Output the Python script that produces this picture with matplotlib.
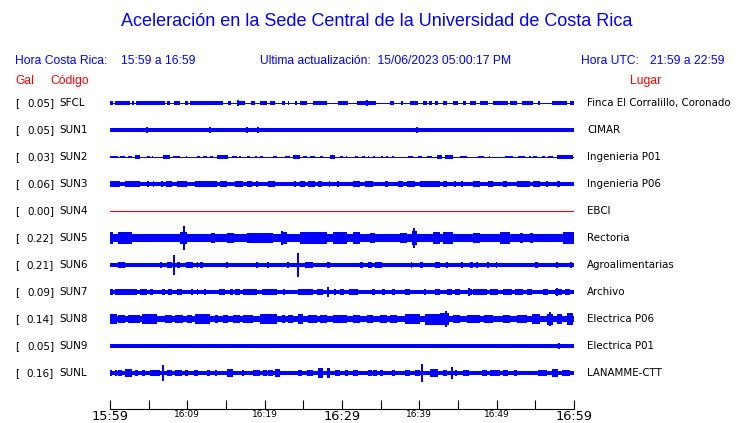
import matplotlib.pyplot as plt
from matplotlib.transforms import blended_transform_factory

W, H = 740, 423

codes = ['SFCL', 'SUN1', 'SUN2', 'SUN3', 'SUN4', 'SUN5', 'SUN6', 'SUN7', 'SUN8', 'SUN9', 'SUNL']
peak_gal = [0.05, 0.05, 0.03, 0.06, 0.00, 0.22, 0.21, 0.09, 0.14, 0.05, 0.16]
places = ['Finca El Corralillo, Coronado', 'CIMAR', 'Ingenieria P01', 'Ingenieria P06', 'EBCI',
          'Rectoria', 'Agroalimentarias', 'Archivo', 'Electrica P06', 'Electrica P01', 'LANAMME-CTT']
# half width of the continuous noise band (Gal)
base_amp = [0.009, 0.036, 0.009, 0.042, 0.0, 0.072, 0.034, 0.038, 0.052, 0.034, 0.032]

# bursts: (start minute, end minute, amplitude Gal), minutes after 15:59
sfcl_bursts = [(0.0, 0.4, .032), (0.6, 2.6, .032), (3.4, 7.1, .034), (7.4, 7.8, .032), (8.3, 9.1, .032),
               (9.8, 10.1, .032), (10.3, 14.6, .032), (15.3, 15.6, .032), (16.4, 17.5, .036), (18.2, 18.7, .032),
               (19.4, 20.3, .032), (20.7, 21.3, .032), (22.2, 22.6, .032), (23.0, 23.2, .032), (23.9, 24.2, .032),
               (24.6, 25.5, .032), (26.2, 28.1, .032), (29.5, 30.8, .032), (31.9, 34.4, .034), (36.2, 36.7, .032),
               (37.6, 37.9, .032), (38.8, 39.8, .032), (40.5, 41.0, .032), (41.3, 41.6, .032), (42.0, 42.4, .032),
               (43.1, 43.6, .032), (44.3, 45.0, .032), (45.6, 46.0, .032), (46.5, 47.3, .032), (47.8, 48.9, .032),
               (49.5, 51.5, .032), (51.7, 52.6, .032), (53.3, 54.7, .032), (55.3, 55.6, .032), (57.2, 59.1, .032),
               (59.5, 60.0, .032)]
sfcl_spikes = [(3.0, .045), (9.8, .04), (15.4, .04), (16.5, .05), (33.2, .05), (52.4, .045)]

sun1_bursts = []
sun1_spikes = [(4.8, .05), (6.9, .045), (12.9, .05), (17.7, .05), (19.1, .05), (31.4, .045),
               (32.5, .045), (39.7, .05), (48.5, .045), (55.2, .045)]

sun2_bursts = [(0.0, 1.0, .026), (1.3, 1.9, .026), (2.3, 2.8, .026), (3.2, 3.9, .028), (4.8, 5.2, .026),
               (5.4, 5.6, .026), (6.9, 7.8, .028), (8.2, 9.1, .026), (9.8, 10.0, .026), (11.3, 11.6, .026),
               (12.0, 12.5, .026), (12.9, 13.3, .026), (13.8, 15.3, .028), (15.8, 16.4, .026), (16.7, 16.9, .026),
               (17.7, 18.1, .026), (18.7, 19.0, .026), (19.4, 19.8, .026), (21.1, 21.6, .026), (22.6, 23.3, .026),
               (23.7, 24.6, .028), (24.9, 25.5, .026), (25.9, 26.5, .026), (27.2, 27.5, .026), (28.4, 29.1, .028),
               (29.7, 30.1, .026), (30.5, 30.7, .026), (31.7, 32.1, .026), (32.6, 33.0, .026), (33.3, 33.5, .026),
               (34.0, 34.3, .026), (35.1, 35.3, .026), (35.7, 35.9, .026), (36.5, 36.7, .026), (38.5, 39.2, .026),
               (39.8, 40.3, .026), (41.0, 41.6, .026), (42.3, 42.9, .028), (43.3, 44.4, .028), (45.3, 46.2, .026),
               (47.6, 48.3, .026), (49.0, 49.2, .026), (51.1, 52.1, .026), (52.8, 53.7, .026), (54.2, 54.4, .026),
               (54.7, 55.2, .026), (55.9, 56.3, .026), (56.6, 57.3, .026), (57.8, 59.9, .028)]
sun2_spikes = [(15.0, .03), (42.6, .03)]

sun3_bursts = [(0.0, 1.3, .052), (1.9, 3.9, .052), (4.8, 5.0, .05), (5.5, 5.7, .05), (6.6, 6.8, .05),
               (7.3, 8.0, .05), (8.7, 10.0, .052), (11.0, 13.8, .052), (14.2, 15.1, .052), (16.2, 17.2, .05),
               (17.7, 18.4, .05), (18.9, 19.1, .05), (20.4, 21.3, .05), (23.8, 24.0, .05), (24.6, 25.2, .05),
               (25.6, 26.5, .05), (26.9, 27.4, .05), (28.3, 28.5, .05), (29.4, 29.6, .05), (31.4, 32.3, .052),
               (33.0, 34.0, .052), (35.6, 36.0, .05), (37.2, 37.9, .05), (38.4, 39.4, .052), (40.1, 42.7, .052),
               (43.1, 43.6, .05), (44.5, 44.7, .05), (45.4, 45.6, .05), (47.0, 47.8, .05), (48.9, 49.5, .05),
               (50.8, 51.3, .05), (52.6, 54.3, .052), (54.7, 55.6, .052), (56.4, 56.6, .05), (57.8, 58.2, .05)]
sun3_spikes = [(14.7, .06), (42.5, .055)]

sun4_bursts = []
sun4_spikes = []

sun5_bursts = [(0.0, 0.4, .11), (1.0, 2.8, .1), (9.1, 10.0, .11), (13.0, 13.6, .09), (15.1, 16.0, .09),
               (17.7, 21.1, .095), (22.2, 22.9, .11), (24.6, 28.1, .1), (28.9, 30.6, .1), (31.4, 32.3, .1),
               (33.6, 34.3, .09), (37.5, 38.4, .095), (39.0, 39.7, .12), (41.8, 42.7, .1), (43.1, 44.4, .1),
               (46.9, 47.8, .09), (50.4, 51.7, .1), (53.0, 53.4, .09), (54.3, 54.7, .09), (58.6, 60.0, .11)]
sun5_spikes = [(9.6, .22), (39.3, .19), (22.2, .12)]

sun6_bursts = [(1.0, 1.9, .055), (6.5, 6.7, .05), (7.4, 8.0, .055), (8.7, 9.1, .05), (9.8, 10.7, .055),
               (11.2, 11.4, .05), (11.6, 12.0, .055), (15.0, 15.2, .05), (18.9, 19.1, .05), (20.3, 20.5, .05),
               (22.9, 23.1, .05), (25.2, 26.2, .055), (28.1, 28.5, .05), (32.3, 32.7, .05), (33.4, 33.9, .05),
               (34.3, 35.2, .055), (38.9, 39.1, .05), (40.1, 40.5, .05), (42.0, 42.7, .055), (43.5, 43.7, .05),
               (45.4, 45.7, .05), (46.5, 46.9, .05), (47.3, 47.6, .05), (48.8, 49.0, .05), (49.9, 50.1, .05),
               (55.0, 55.3, .05), (57.7, 57.9, .06), (59.5, 59.8, .05)]
sun6_spikes = [(8.3, .19), (24.3, .21)]

sun7_bursts = [(0.0, 0.4, .055), (0.6, 3.5, .055), (3.9, 4.8, .055), (5.2, 5.6, .055), (6.7, 7.1, .055),
               (7.5, 8.0, .055), (8.7, 9.3, .055), (10.5, 10.7, .05), (11.2, 11.4, .05), (12.2, 12.4, .05),
               (14.1, 14.9, .055), (15.5, 15.9, .055), (16.2, 16.8, .055), (17.2, 19.0, .055), (19.6, 21.6, .055),
               (22.4, 22.6, .055), (24.3, 26.3, .06), (26.8, 27.5, .055), (29.0, 29.2, .05), (29.7, 30.2, .055),
               (30.9, 32.1, .055), (33.9, 34.3, .055), (35.2, 35.6, .055), (36.5, 36.9, .055), (38.2, 38.8, .055),
               (40.6, 40.8, .05), (42.0, 42.7, .055), (43.6, 44.2, .055), (44.6, 45.3, .055), (46.3, 46.8, .06),
               (46.9, 48.7, .055), (49.1, 50.2, .055), (50.8, 52.0, .055), (52.4, 53.4, .055), (53.9, 54.6, .055),
               (56.0, 56.6, .055), (57.5, 58.4, .06), (58.8, 59.5, .055)]
sun7_spikes = [(28.2, .09), (46.4, .08), (57.8, .075)]

sun8_bursts = [(0.0, 0.9, .085), (1.0, 1.9, .08), (2.3, 3.9, .08), (4.1, 6.1, .085), (7.1, 8.0, .08),
               (8.4, 9.5, .08), (10.0, 10.6, .08), (11.0, 12.9, .085), (13.6, 14.0, .08), (14.6, 15.3, .08),
               (15.9, 16.8, .08), (17.2, 18.5, .08), (19.4, 21.6, .09), (22.2, 22.6, .08), (23.0, 23.7, .08),
               (24.3, 25.0, .09), (25.6, 26.8, .08), (27.2, 28.1, .08), (28.8, 30.6, .08), (31.4, 32.3, .08),
               (33.2, 34.0, .08), (34.9, 35.8, .08), (36.2, 37.1, .08), (38.2, 40.1, .095), (40.7, 42.7, .1),
               (42.7, 43.8, .11), (44.4, 45.3, .08), (46.2, 47.8, .08), (48.3, 49.5, .08), (50.8, 51.7, .08),
               (52.6, 53.9, .08), (54.6, 55.6, .09), (56.5, 57.3, .1), (57.8, 58.4, .09), (59.1, 59.9, .11)]
sun8_spikes = [(43.5, .14), (56.9, .12)]

sun9_bursts = [(17.1, 17.4, .04), (31.0, 31.3, .04), (38.6, 38.9, .04)]
sun9_spikes = [(26.1, .045), (58.1, .055)]

sunl_bursts = [(0.0, 0.3, .06), (0.6, 0.9, .06), (1.0, 1.6, .06), (1.9, 2.8, .07), (3.2, 3.6, .06),
               (4.1, 4.5, .06), (5.2, 6.5, .06), (7.4, 8.0, .06), (8.4, 9.3, .06), (9.7, 10.1, .06),
               (10.8, 11.4, .06), (12.5, 12.9, .06), (13.6, 13.8, .06), (15.1, 15.9, .07), (18.5, 19.4, .06),
               (19.8, 20.3, .06), (20.4, 21.1, .06), (21.3, 22.0, .08), (24.3, 24.8, .06), (25.5, 26.3, .06),
               (26.9, 27.5, .09), (28.0, 28.5, .09), (29.1, 29.7, .06), (30.4, 30.8, .06), (31.4, 32.1, .06),
               (33.4, 33.9, .06), (34.0, 34.5, .06), (34.9, 35.3, .06), (36.5, 36.9, .06), (38.2, 38.8, .06),
               (39.4, 40.1, .06), (41.4, 42.4, .07), (43.1, 43.6, .06), (44.6, 44.9, .06), (45.6, 46.4, .06),
               (48.1, 48.7, .06), (49.1, 50.4, .06), (50.8, 51.5, .06), (52.2, 52.6, .06), (55.3, 56.5, .06),
               (57.2, 57.9, .07), (58.4, 59.5, .06)]
sunl_spikes = [(6.9, .15), (40.3, .16), (44.2, .11), (17.2, .06)]

all_bursts = [sfcl_bursts, sun1_bursts, sun2_bursts, sun3_bursts, sun4_bursts, sun5_bursts,
              sun6_bursts, sun7_bursts, sun8_bursts, sun9_bursts, sunl_bursts]
all_spikes = [sfcl_spikes, sun1_spikes, sun2_spikes, sun3_spikes, sun4_spikes, sun5_spikes,
              sun6_spikes, sun7_spikes, sun8_spikes, sun9_spikes, sunl_spikes]

tick_minutes = list(range(0, 61, 5))
tick_labels = ['15:59', '', '16:09', '', '16:19', '', '16:29', '', '16:39', '', '16:49', '', '16:59']
big_labels = ['15:59', '16:29', '16:59']

BLUE = '#0000ff'
RED = '#ff0000'
PX_PER_GAL = 55.0
GAP = 27 / PX_PER_GAL  # trace spacing in Gal units

fig = plt.figure(figsize=(W / 100, H / 100), dpi=100)
# axes from x=110..574 px, y=90..409 px
ax = fig.add_axes([110 / W, 1 - 409 / H, 464 / W, 319 / H])
ax.set_xlim(0, 60)
ax.set_ylim(-(409 - 103) / PX_PER_GAL, (103 - 90) / PX_PER_GAL)

for i, code in enumerate(codes):
    off = -i * GAP
    if code == 'SUN4':
        ax.plot([0, 60], [off, off], color=RED, lw=0.8)
        continue
    b = base_amp[i]
    if b < 0.015:
        ax.plot([0, 60], [off, off], color=BLUE, lw=0.6, antialiased=False)
    else:
        ax.fill_between([0, 60], off - b, off + b, color=BLUE, lw=0, antialiased=False)
    for s, e, a in all_bursts[i]:
        ax.fill_between([s, e], off - a, off + a, color=BLUE, lw=0, antialiased=False)
    for m, a in all_spikes[i]:
        ax.vlines(m, off - a, off + a, color=BLUE, lw=1.3, antialiased=False)

for side in ['top', 'left', 'right']:
    ax.spines[side].set_visible(False)
ax.spines['bottom'].set_linewidth(0.8)
ax.set_yticks([])
ax.set_xticks(tick_minutes)
ax.set_xticklabels(tick_labels)
ax.tick_params(axis='x', direction='in', length=6.5, width=0.8, pad=1.0, labelsize=6.5)
for lab in ax.get_xticklabels():
    if lab.get_text() in big_labels:
        lab.set_fontsize(9.3)

# labels at the sides of each trace
trans = blended_transform_factory(fig.transFigure, ax.transData)
for i, code in enumerate(codes):
    off = -i * GAP
    ax.text(15 / W, off, '[', transform=trans, fontsize=7.5, va='center', ha='left')
    ax.text(54 / W, off, f'{peak_gal[i]:.2f}]', transform=trans, fontsize=7.5, va='center', ha='right')
    ax.text(59 / W, off, code, transform=trans, fontsize=7.5, va='center', ha='left')
    ax.text(587 / W, off, places[i], transform=trans, fontsize=7.4, va='center', ha='left')

hfont = 'Liberation Sans'
hsize = 8.7
fig.text(377 / W, 1 - 22 / H, 'Aceleración en la Sede Central de la Universidad de Costa Rica',
         color=BLUE, fontsize=13, family=hfont, ha='center', va='center')
fig.text(15 / W, 1 - 61 / H, 'Hora Costa Rica:', color=BLUE, fontsize=hsize, family=hfont, va='center')
fig.text(121 / W, 1 - 61 / H, '15:59 a 16:59', color=BLUE, fontsize=hsize, family=hfont, va='center')
fig.text(260 / W, 1 - 61 / H, 'Ultima actualización:  15/06/2023 05:00:17 PM', color=BLUE, fontsize=hsize,
         family=hfont, va='center')
fig.text(581 / W, 1 - 61 / H, 'Hora UTC:', color=BLUE, fontsize=hsize, family=hfont, va='center')
fig.text(724 / W, 1 - 61 / H, '21:59 a 22:59', color=BLUE, fontsize=hsize, family=hfont, va='center', ha='right')
fig.text(15 / W, 1 - 81 / H, 'Gal', color=RED, fontsize=hsize, family=hfont, va='center')
fig.text(50 / W, 1 - 81 / H, 'Código', color=RED, fontsize=hsize, family=hfont, va='center')
fig.text(630 / W, 1 - 81 / H, 'Lugar', color=RED, fontsize=hsize, family=hfont, va='center')

fig.savefig('out.png', dpi=100)
